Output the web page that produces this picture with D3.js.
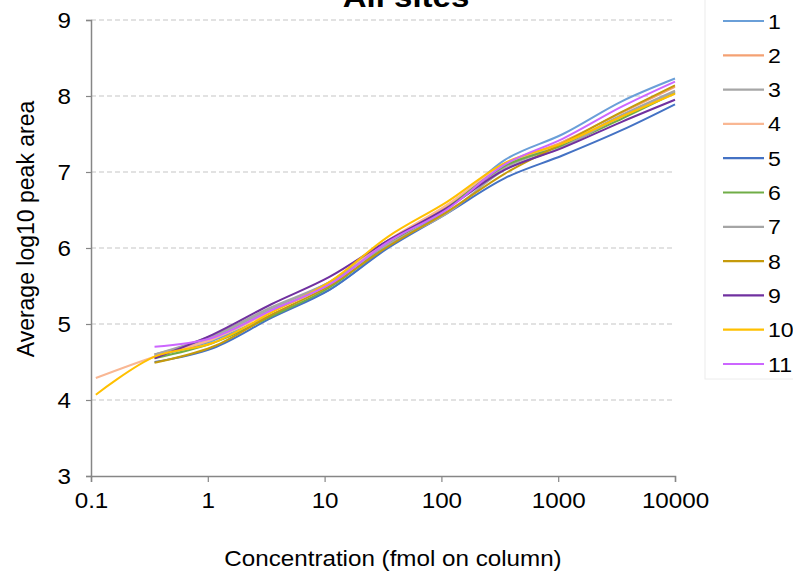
<!DOCTYPE html>
<html>
<head>
<meta charset="utf-8">
<script src="https://cdn.jsdelivr.net/npm/d3@7"></script>
<style>
  html, body { margin: 0; padding: 0; background: #fff; }
  svg { display: block; font-family: "Liberation Sans", Arial, sans-serif; }
</style>
</head>
<body>
<svg id="chart" width="793" height="573"></svg>
<script>
// Concentrations (fmol on column) of the dilution series
const concentrations = [0.11, 0.35, 1.1, 3.5, 11, 35, 110, 350, 1100, 3500, 10000];

// Average log10 peak area per site (null = not measured)
const site1  = [null, 4.58, 4.78, 5.12, 5.45, 6.02, 6.50, 7.16, 7.50, 7.93, 8.23];
const site2  = [null, 4.60, 4.80, 5.17, 5.52, 6.08, 6.55, 7.10, 7.40, 7.78, 8.12];
const site3  = [null, 4.60, 4.83, 5.20, 5.55, 6.10, 6.52, 7.06, 7.36, 7.75, 8.07];
const site4  = [4.29, 4.57, 4.80, 5.17, 5.53, 6.10, 6.56, 7.10, 7.37, 7.72, 8.05];
const site5  = [null, 4.50, 4.68, 5.08, 5.45, 6.00, 6.45, 6.92, 7.22, 7.55, 7.89];
const site6  = [null, 4.55, 4.75, 5.10, 5.48, 6.05, 6.52, 7.08, 7.35, 7.70, 8.04];
const site7  = [null, 4.60, 4.85, 5.22, 5.55, 6.05, 6.45, 7.03, 7.33, 7.74, 8.06];
const site8  = [null, 4.49, 4.70, 5.12, 5.50, 6.02, 6.47, 6.98, 7.38, 7.79, 8.14];
const site9  = [null, 4.55, 4.86, 5.26, 5.62, 6.10, 6.52, 7.03, 7.32, 7.66, 7.95];
const site10 = [4.07, 4.57, 4.75, 5.15, 5.55, 6.15, 6.60, 7.12, 7.38, 7.73, 8.03];
const site11 = [null, 4.70, 4.82, 5.18, 5.52, 6.08, 6.50, 7.10, 7.44, 7.86, 8.19];

const siteNames  = ["1", "2", "3", "4", "5", "6", "7", "8", "9", "10", "11"];
const siteColors = ["#6a9fd8", "#f4a173", "#a6a6a6", "#f9b793", "#4472c4", "#70ad47",
                    "#a5a5a5", "#c59a0b", "#7030a0", "#ffc000", "#cc66ff"];
const siteValues = [site1, site2, site3, site4, site5, site6, site7, site8, site9, site10, site11];

const xTicks = [0.1, 1, 10, 100, 1000, 10000];
const yTicks = [3, 4, 5, 6, 7, 8, 9];

const svg = d3.select("#chart");
const plot = { left: 91, right: 675, top: 20, bottom: 476 };
const stretch = 1.1;   // the face is set slightly wide

const x = d3.scaleLog().domain([0.1, 10000]).range([plot.left, plot.right]);
const y = d3.scaleLinear().domain([3, 9]).range([plot.bottom, plot.top]);

// horizontal dashed gridlines
svg.append("g").selectAll("line")
  .data(yTicks.filter(t => t > 3))
  .join("line")
  .attr("x1", plot.left).attr("x2", plot.right - 2)
  .attr("y1", d => y(d)).attr("y2", d => y(d))
  .attr("stroke", "#d9d9d9").attr("stroke-width", 1.5)
  .attr("stroke-dasharray", "5,3");

// axes
const yAxis = d3.axisLeft(y).tickValues(yTicks).tickSize(5).tickFormat(d3.format("d"));
const gy = svg.append("g").attr("transform", `translate(${plot.left},0)`).call(yAxis);
const xAxis = d3.axisBottom(x).tickValues(xTicks).tickSize(6).tickFormat(d => String(d));
const gx = svg.append("g").attr("transform", `translate(0,${plot.bottom})`).call(xAxis);

[gx, gy].forEach(g => {
  g.select(".domain").attr("stroke", "#868686").attr("stroke-width", 1.5);
  g.selectAll(".tick line").attr("stroke", "#868686").attr("stroke-width", 1.2);
  g.selectAll(".tick text").attr("fill", "#000").attr("font-size", 22)
    .attr("font-family", "Liberation Sans, Arial, sans-serif");
});
gy.selectAll(".tick text")
  .attr("x", 0).attr("dy", "0.36em")
  .attr("transform", `translate(-20,0) scale(${stretch},1)`);
gx.selectAll(".tick text")
  .attr("x", 0).attr("y", 0).attr("dy", "0.71em")
  .attr("transform", `translate(0,16) scale(${stretch},1)`);

// series lines, lightly smoothed
const line = d3.line()
  .defined(d => d.v !== null)
  .curve(d3.curveCatmullRom.alpha(0.5))
  .x(d => x(d.c))
  .y(d => y(d.v));

svg.append("g").selectAll("path")
  .data(siteValues.map((vals, i) => ({
    color: siteColors[i],
    pts: vals.map((v, j) => ({ c: concentrations[j], v }))
  })))
  .join("path")
  .attr("d", d => line(d.pts))
  .attr("fill", "none")
  .attr("stroke", d => d.color)
  .attr("stroke-width", 2)
  .attr("stroke-linejoin", "round");

// title (runs above the page edge)
svg.append("text")
  .attr("transform", `translate(406,7) scale(${stretch},1)`)
  .attr("text-anchor", "middle")
  .attr("font-size", 30).attr("font-weight", "bold")
  .text("All sites");

// axis titles
svg.append("text")
  .attr("transform", `translate(393,566) scale(${stretch},1)`)
  .attr("text-anchor", "middle").attr("font-size", 22)
  .text("Concentration (fmol on column)");

svg.append("text")
  .attr("transform", "translate(34,229) rotate(-90)")
  .attr("text-anchor", "middle").attr("font-size", 23)
  .text("Average log10 peak area");

// legend
const legend = svg.append("g");
legend.append("rect")
  .attr("x", 705).attr("y", -5).attr("width", 100).attr("height", 384)
  .attr("fill", "none").attr("stroke", "#ececec").attr("stroke-width", 1);
const items = legend.selectAll("g.item")
  .data(siteNames.map((n, i) => ({ n, color: siteColors[i], i })))
  .join("g").attr("class", "item")
  .attr("transform", d => `translate(0,${21 + d.i * 34.3})`);
items.append("line")
  .attr("x1", 723).attr("x2", 764).attr("y1", 0).attr("y2", 0)
  .attr("stroke", d => d.color).attr("stroke-width", 2.2);
items.append("text")
  .attr("transform", `translate(768,0) scale(${stretch},1)`)
  .attr("dy", "0.36em").attr("font-size", 21)
  .text(d => d.n);
</script>
</body>
</html>
